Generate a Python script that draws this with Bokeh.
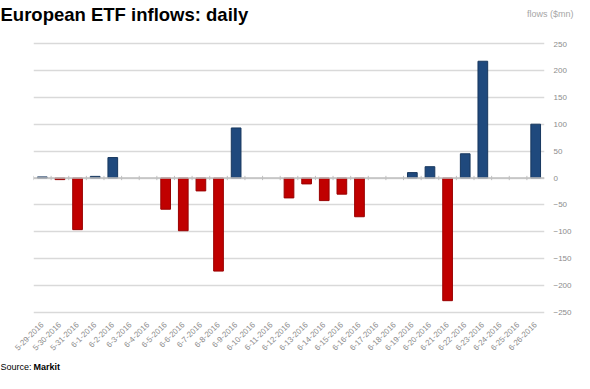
import math
from bokeh.plotting import figure
from bokeh.layouts import column
from bokeh.models import Span, ColumnDataSource, FactorRange, FixedTicker, Label, Range1d
from bokeh.transform import dodge
from bokeh.embed import file_html
from bokeh.resources import INLINE

dates = ["5-29-2016", "5-30-2016", "5-31-2016", "6-1-2016", "6-2-2016", "6-3-2016",
         "6-4-2016", "6-5-2016", "6-6-2016", "6-7-2016", "6-8-2016", "6-9-2016",
         "6-10-2016", "6-11-2016", "6-12-2016", "6-13-2016", "6-14-2016", "6-15-2016",
         "6-16-2016", "6-17-2016", "6-18-2016", "6-19-2016", "6-20-2016", "6-21-2016",
         "6-22-2016", "6-23-2016", "6-24-2016", "6-25-2016", "6-26-2016"]
flows = [2, -3, -96, 3, 38, 0,
         0, -58, -98, -24, -173, 93,
         0, 0, -37, -11, -42, -30,
         -72, 0, 0, 10, 21, -228,
         45, 217, 0, 0, 100]
y_ticks = [-250, -200, -150, -100, -50, 0, 50, 100, 150, 200, 250]

BLUE, BLUE_EDGE = "#1F497D", "#17375E"
RED, RED_EDGE = "#C00000", "#990000"
FONT = "Liberation Sans"
W = 574


def blank(height):
    f = figure(width=W, height=height, x_range=Range1d(0, W), y_range=Range1d(height, 0),
               output_backend="svg", toolbar_location=None, title=None,
               min_border=0, frame_align=False)
    f.axis.visible = False
    f.grid.visible = False
    f.outline_line_color = None
    f.background_fill_color = "white"
    f.border_fill_color = "white"
    return f


# header
head = blank(41)
head.add_layout(Label(x=0, y=14, text="European ETF inflows:  daily", text_font=FONT,
                      text_font_style="bold", text_font_size="18.5px", text_color="#000000",
                      text_baseline="middle", text_align="left"))
head.add_layout(Label(x=573, y=13, text="flows ($mn)", text_font=FONT,
                      text_font_size="9px", text_color="#a6a6a6",
                      text_baseline="middle", text_align="right"))

# main chart
fill = [BLUE if v >= 0 else RED for v in flows]
edge = [BLUE_EDGE if v >= 0 else RED_EDGE for v in flows]
edge_alpha = [0.0 if v == 0 else 1.0 for v in flows]
src = ColumnDataSource(dict(x=dates, top=flows, fill=fill, edge=edge, ea=edge_alpha))

p = figure(width=W, height=320, x_range=FactorRange(*dates), y_range=(-253.7, 253.7),
           output_backend="svg", toolbar_location=None, y_axis_location="right",
           title=None, frame_align=False)
p.min_border_left = 33
p.min_border_right = 20
p.min_border_top = 0
p.min_border_bottom = 47
p.outline_line_color = None
p.background_fill_color = "white"
p.border_fill_color = "white"

p.xgrid.grid_line_color = None
p.ygrid.grid_line_color = "#d9d9d9"
p.ygrid.grid_line_width = 1.3
p.ygrid.ticker = FixedTicker(ticks=y_ticks)

ya = p.yaxis[0]
ya.ticker = FixedTicker(ticks=y_ticks)
ya.axis_line_color = None
ya.major_tick_line_color = None
ya.minor_tick_line_color = None
ya.major_label_text_color = "#8c8c8c"
ya.major_label_text_font = FONT
ya.major_label_text_font_size = "8px"
ya.major_label_standoff = 3

xa = p.xaxis[0]
xa.axis_line_color = None
xa.major_tick_line_color = None
xa.minor_tick_line_color = None
xa.major_label_orientation = math.pi / 4
xa.major_label_text_color = "#8c8c8c"
xa.major_label_text_font = FONT
xa.major_label_text_font_size = "8px"
xa.major_label_standoff = 3

p.vbar(x="x", top="top", bottom=0, width=0.55, source=src,
       fill_color="fill", line_color="edge", line_alpha="ea", line_width=1)

p.add_layout(Span(location=0, dimension="width", line_color="#bfbfbf", line_width=1.3))

tsrc = ColumnDataSource(dict(x=dates))
p.segment(x0=dodge("x", -0.5, range=p.x_range), x1=dodge("x", -0.5, range=p.x_range),
          y0=-4, y1=4, source=tsrc, line_color="#bfbfbf", line_width=1)

# footer
foot = blank(12)
foot.add_layout(Label(x=0, y=5.5, text="Source:", text_font=FONT, text_font_size="9px",
                      text_color="#000000", text_baseline="middle"))
foot.add_layout(Label(x=33, y=5.5, text="Markit", text_font=FONT, text_font_style="bold",
                      text_font_size="9px", text_color="#000000",
                      text_baseline="middle"))

layout = column(head, p, foot, spacing=0)
open("out.html", "w").write(file_html(layout, INLINE))
